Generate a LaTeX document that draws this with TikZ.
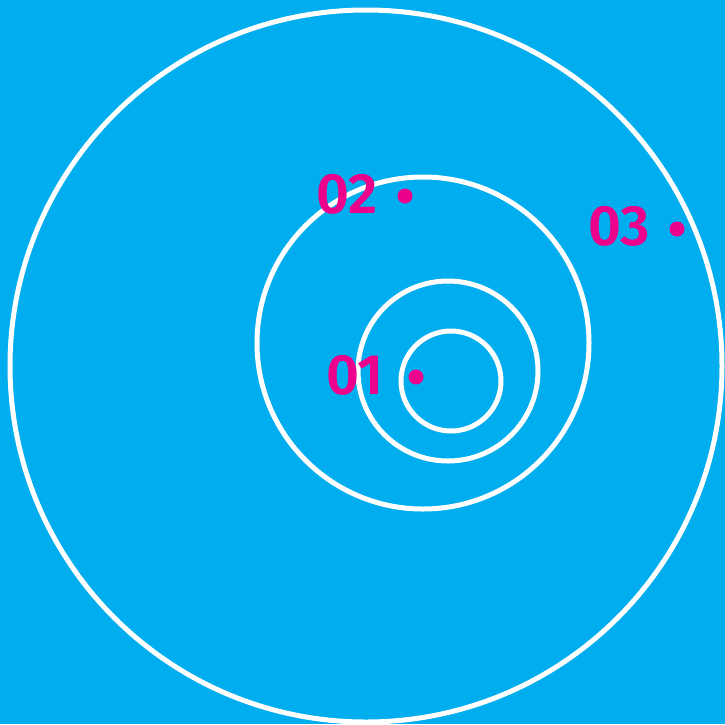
\documentclass[tikz,border=0pt]{standalone}
\usepackage{fontspec}
\setmainfont{Fira Sans}[BoldFont={Fira Sans SemiBold}]
\definecolor{bgblue}{HTML}{00ADEF}
\definecolor{mag}{HTML}{EC008C}
\begin{document}
\begin{tikzpicture}[x=1pt,y=-1pt,
  ring/.style={draw=white,line width=5pt},
  dotmark/.style={circle,fill=mag,inner sep=0pt,minimum size=15pt},
  lab/.style={text=mag,font=\fontsize{57}{57}\selectfont\bfseries,inner sep=0pt,anchor=base east}]
\fill[bgblue] (0,0) rectangle (725,724);
\useasboundingbox (0,0) rectangle (725,724);
\draw[ring] (366,366) circle (356);
\draw[ring] (423,343) circle (166);
\draw[ring] (448,371) circle (90);
\draw[ring] (451,381) circle (50);
\node[dotmark] (d2) at (405,196) {};
\node[dotmark] (d3) at (677,229) {};
\node[dotmark] (d1) at (416,377) {};
\node[lab] (l2) at (378,213) {02};
\node[lab] (l3) at (650,245) {03};
\node[lab] (l1) at (384,394) {01};
\end{tikzpicture}
\end{document}
